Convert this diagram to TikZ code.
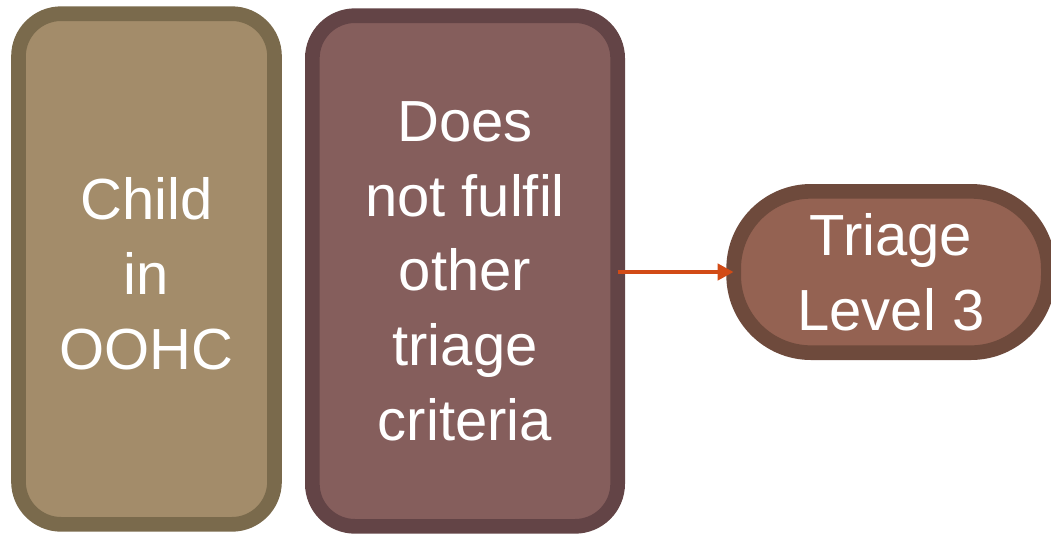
\documentclass[tikz,border=0pt]{standalone}
\usepackage{fontspec}
\setmainfont{Liberation Sans}
\usetikzlibrary{arrows.meta}
\definecolor{tanfill}{HTML}{A38C6A}
\definecolor{tanline}{HTML}{7A6A4C}
\definecolor{roseFill}{HTML}{855E5C}
\definecolor{roseLine}{HTML}{634446}
\definecolor{ovalFill}{HTML}{946252}
\definecolor{ovalLine}{HTML}{6E4A3C}
\definecolor{arrowCol}{HTML}{D24B16}
\tikzset{
  boxtext/.style={text=white, align=center, font=\fontsize{43.5}{56}\selectfont},
  boxbase/.style={rectangle, line width=11pt, outer sep=0pt, inner sep=0pt, boxtext},
  tallbox/.style={boxbase, rounded corners=32pt},
  ovalbox/.style={boxbase, rounded corners=58pt},
  link/.style={draw=arrowCol, line width=3pt, -{Triangle[length=12pt,width=12pt]}}
}
\begin{document}
\begin{tikzpicture}[x=0.75pt,y=-0.75pt]
\useasboundingbox (0,0) rectangle (1051,537);
\node[tallbox, draw=tanline, fill=tanfill, minimum width=192pt, minimum height=383pt,
  label={[boxtext, yshift=-3.5pt]center:Child\\in\\OOHC}] (child) at (146.5,269) {};
\node[tallbox, draw=roseLine, fill=roseFill, minimum width=229pt, minimum height=383pt] (crit) at (465,271) {Does\\not fulfil\\other\\triage\\criteria};
\node[ovalbox, draw=ovalLine, fill=ovalFill, minimum width=236pt, minimum height=121pt] (tri) at (891,272) {Triage\\Level 3};
\draw[link] (crit.east |- tri.west) -- (tri.west);
\end{tikzpicture}
\end{document}
